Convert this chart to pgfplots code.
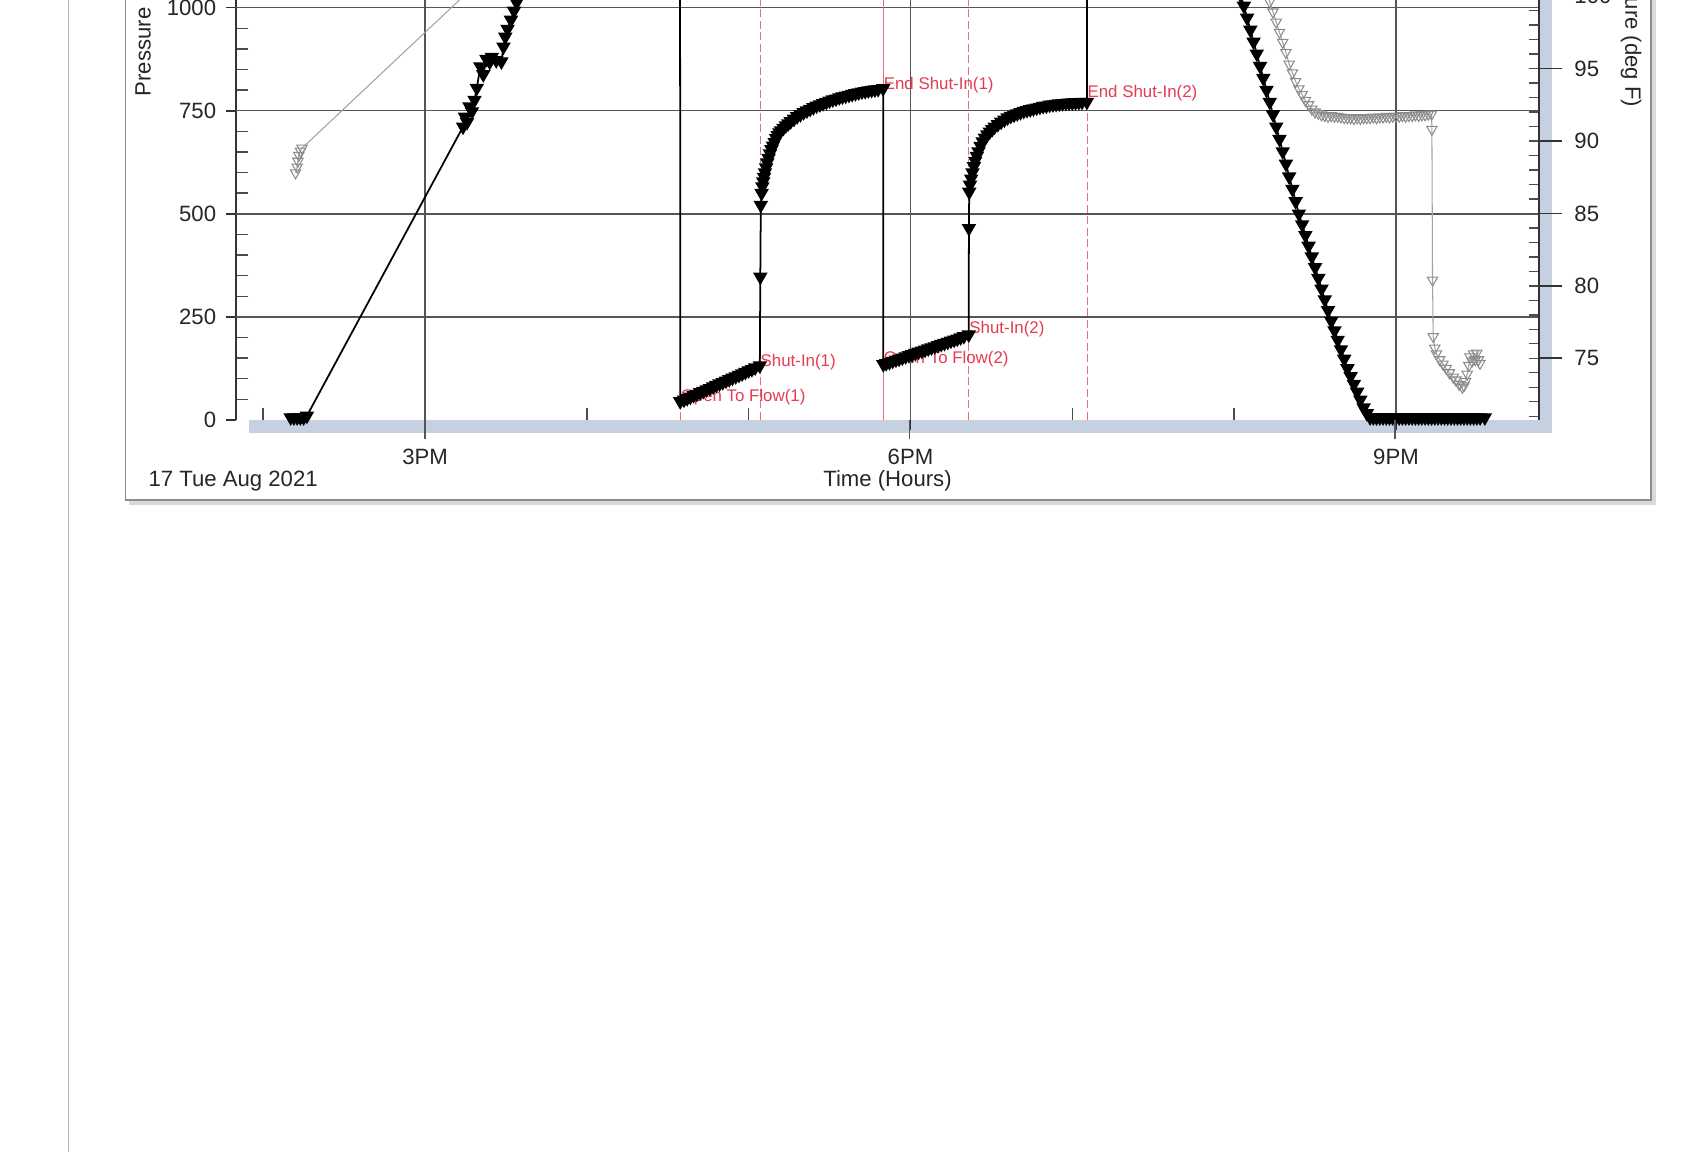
\documentclass[border=0pt]{standalone}
\usepackage{fontspec}
\setmainfont{Liberation Sans}
\usepackage{pgfplots}
\pgfplotsset{compat=1.18}
\definecolor{barcol}{RGB}{197,209,224}
\definecolor{gridcol}{RGB}{85,85,85}
\definecolor{annot}{RGB}{228,60,82}
\definecolor{framecol}{RGB}{140,140,140}
\definecolor{pagecol}{RGB}{180,180,205}
\definecolor{tempcol}{RGB}{140,140,140}
\newcommand\lab{\fontsize{6.3}{7.5}\selectfont}
\newcommand\ann{\fontsize{4.8}{5.5}\selectfont}

\pgfplotstableread{
t P
14.17 6
14.19 6
14.21 6
14.23 6
14.25 6
14.27 10
15.235 711
15.247 735
15.26 722
15.275 760
15.29 748
15.306 776
15.32 805
15.342 857
15.36 838
15.38 875
15.40 868
15.413 880
15.44 872
15.472 869
15.485 905
15.496 929
15.51 948
15.531 970
15.55 992
15.566 1012
15.60 1060
15.70 1170
15.85 1340
16.00 1480
16.10 1510
16.576 1512
16.577 45
16.60 49
16.62 52.5
16.64 56
16.66 60
16.68 63
16.70 67
16.72 70
16.74 74
16.76 77
16.78 81
16.80 84.5
16.82 88
16.84 91.5
16.86 95
16.88 98.5
16.90 102
16.92 105.5
16.94 109
16.96 112.5
16.98 116
17.00 120
17.02 123
17.04 127
17.069 132
17.072 347
17.075 521
17.080 550
17.085 566
17.090 578
17.095 589
17.101 600
17.108 612
17.115 624
17.123 635
17.132 646
17.141 656
17.150 665
17.160 674
17.170 683
17.180 690
17.190 697
17.200 702
17.215 708
17.230 714
17.245 719
17.260 724
17.280 730
17.300 736
17.320 741
17.340 746
17.360 750
17.380 754
17.400 758
17.420 762
17.440 765
17.460 768
17.480 771
17.500 774
17.520 777
17.540 779
17.560 782
17.580 784
17.600 786
17.620 788
17.640 790
17.660 792
17.680 794
17.700 796
17.720 797
17.740 799
17.760 800
17.780 801
17.800 802
17.831 804
17.832 135
17.85 137.5
17.87 140
17.89 143
17.91 146
17.93 148.5
17.95 151
17.97 154
17.99 157
18.01 159
18.03 162
18.05 165
18.07 167.5
18.09 170
18.11 173
18.13 175.5
18.15 178
18.17 181
18.19 184
18.21 186.5
18.23 189
18.25 192
18.27 194.5
18.29 197
18.31 200
18.33 203
18.360 207
18.361 465
18.363 553
18.368 570
18.375 585
18.383 600
18.392 615
18.400 628
18.410 640
18.420 651
18.433 664
18.446 675
18.460 684
18.475 692
18.490 699
18.505 705
18.520 711
18.540 717
18.560 723
18.580 728
18.600 733
18.620 737
18.640 740
18.660 743
18.680 746
18.700 749
18.720 751
18.740 753
18.760 755
18.780 757
18.800 759
18.820 761
18.840 762
18.860 764
18.880 765
18.900 766
18.920 767
18.940 768
18.960 768.5
18.980 769
19.000 769.5
19.020 770
19.040 770.5
19.060 771
19.090 771
19.092 1500
19.700 1500
20.04 1030
20.06 1004
20.08 975
20.10 946
20.12 917
20.14 888
20.16 858
20.18 829
20.20 800
20.22 771
20.24 741
20.26 711
20.28 681
20.30 651
20.32 621
20.34 590
20.36 560
20.38 530
20.40 500
20.42 474
20.44 448
20.46 422
20.48 396
20.50 370
20.52 344
20.54 318
20.56 292
20.58 266
20.60 240
20.62 217
20.64 194
20.66 171
20.68 148
20.70 125
20.72 106
20.74 87
20.76 68
20.78 49
20.80 30
20.82 16
20.84 6
20.86 6
20.88 6
20.90 6
20.92 6
20.94 6
20.96 6
20.98 6
21.00 6
21.02 6
21.04 6
21.06 6
21.08 6
21.10 6
21.12 6
21.14 6
21.16 6
21.18 6
21.20 6
21.22 6
21.24 6
21.26 6
21.28 6
21.30 6
21.32 6
21.34 6
21.36 6
21.38 6
21.40 6
21.42 6
21.44 6
21.46 6
21.48 6
21.50 6
21.52 6
21.549 6
}\pressure

\pgfplotstableread{
t T
14.20 87.8
14.21 88.2
14.215 88.6
14.22 89.0
14.23 89.3
14.24 89.5
15.60 103.8
16.00 107.5
16.50 109.0
19.90 109.0
20.10 104.0
20.16 101.6
20.20 100.3
20.22 99.6
20.24 98.9
20.26 98.2
20.28 97.5
20.30 96.8
20.32 96.1
20.34 95.3
20.36 94.7
20.38 94.1
20.40 93.6
20.42 93.2
20.44 92.8
20.46 92.5
20.48 92.2
20.50 92.0
20.52 91.9
20.54 91.8
20.56 91.75
20.58 91.7
20.60 91.75
20.62 91.7
20.64 91.7
20.66 91.65
20.68 91.6
20.70 91.6
20.72 91.6
20.74 91.55
20.76 91.6
20.78 91.55
20.80 91.6
20.82 91.6
20.84 91.6
20.86 91.65
20.88 91.6
20.90 91.65
20.92 91.65
20.94 91.7
20.96 91.65
20.98 91.7
21.00 91.7
21.02 91.7
21.04 91.75
21.06 91.7
21.08 91.75
21.10 91.75
21.12 91.8
21.14 91.75
21.16 91.8
21.18 91.8
21.20 91.85
21.22 91.85
21.222 90.8
21.226 80.4
21.23 76.5
21.24 75.7
21.25 75.3
21.27 74.9
21.29 74.6
21.31 74.3
21.33 74.0
21.354 73.7
21.37 73.5
21.39 73.2
21.41 73.0
21.42 73.1
21.43 73.4
21.44 73.9
21.45 74.5
21.457 75.1
21.47 74.8
21.48 75.3
21.49 74.9
21.499 75.35
21.51 74.9
21.519 74.65
}\temperature

\begin{document}
\begin{tikzpicture}
% ---------- decoration (1 unit = 1 reference pixel, y downwards) ----------
\begin{scope}[x=0.01cm,y=-0.01cm]
  \fill[white] (0,-150) rectangle (1697,1153);
  \draw[pagecol, line width=0.1mm] (69,-150) -- (69,1153);
  \draw[gray!30, line width=0.35mm] (129,503.5) -- (1655,503.5) -- (1655,-150);
  \draw[framecol, line width=0.16mm] (125.5,-150) -- (125.5,500) -- (1652,500) -- (1652,-150);
  \fill[barcol] (249,420) rectangle (1553,433);
  \fill[barcol] (1540,-150) rectangle (1553,433);
  \node[rotate=90, anchor=west, inner sep=0pt, font=\lab, text=black!85] at (145,97) {Pressure (psia)};
  \node[rotate=-90, anchor=east, inner sep=0pt, font=\lab, text=black!85] at (1632,108) {Temperature (deg F)};
  \node[anchor=west, inner sep=0pt, font=\lab, text=black!85] at (148,481) {17 Tue Aug 2021};
  \node[anchor=center, inner sep=0pt, font=\lab, text=black!85] at (888,481) {Time (Hours)};
\end{scope}

% ---------- pressure axis ----------
\begin{axis}[
  at={(2.36cm,-4.20cm)}, anchor=south west,
  scale only axis, width=13.03cm, height=5.155cm,
  xmin=13.832, xmax=21.884, ymin=0, ymax=1250,
  axis x line*=bottom, axis y line*=left,
  x axis line style={draw=none},
  y axis line style={draw=black!80, line width=0.6pt},
  xtick={15,18,21}, xticklabels={3PM,6PM,9PM},
  minor xtick={14,16,17,19,20},
  ytick={0,250,500,750,1000,1250},
  minor ytick={50,100,150,200,300,350,400,450,550,600,650,700,800,850,900,950,1050,1100,1150,1200},
  xmajorgrids=true, ymajorgrids=false,
  extra y ticks={250,500,750,1000,1250}, extra y tick labels={},
  extra y tick style={grid=major},
  grid style={gridcol, line width=0.45pt},
  tick align=outside, major tick length=0.1cm, minor tick length=-0.12cm,
  tick style={black!80, line width=0.5pt},
  minor tick style={black!70, line width=0.4pt},
  tick label style={font=\lab, text=black!85},
  yticklabel style={xshift=0.025cm},
  xticklabel style={yshift=-0.07cm},
  /pgf/number format/1000 sep={},
  /pgf/number format/assume math mode=true,
]
  \addplot[annot!75, line width=0.28pt, dash pattern=on 0.8mm off 0.35mm] coordinates {(16.576,0) (16.576,1250)};
  \addplot[annot!75, line width=0.28pt, dash pattern=on 0.8mm off 0.35mm] coordinates {(17.070,0) (17.070,1250)};
  \addplot[annot!75, line width=0.28pt, dash pattern=on 0.8mm off 0.35mm] coordinates {(17.831,0) (17.831,1250)};
  \addplot[annot!75, line width=0.28pt, dash pattern=on 0.8mm off 0.35mm, dash phase=0.5mm] coordinates {(17.834,0) (17.834,1250)};
  \addplot[annot!75, line width=0.28pt, dash pattern=on 0.8mm off 0.35mm] coordinates {(18.360,0) (18.360,1250)};
  \addplot[annot!75, line width=0.28pt, dash pattern=on 0.8mm off 0.35mm] coordinates {(19.091,0) (19.091,1250)};

  \node[anchor=west, inner sep=0pt, font=\ann, text=annot] at (axis cs:16.576,56) {Open To Flow(1)};
  \node[anchor=west, inner sep=0pt, font=\ann, text=annot] at (axis cs:17.070,141) {Shut-In(1)};
  \node[anchor=west, inner sep=0pt, font=\ann, text=annot] at (axis cs:17.831,812) {End Shut-In(1)};
  \node[anchor=west, inner sep=0pt, font=\ann, text=annot] at (axis cs:17.831,148) {Open To Flow(2)};
  \node[anchor=west, inner sep=0pt, font=\ann, text=annot] at (axis cs:18.360,221) {Shut-In(2)};
  \node[anchor=west, inner sep=0pt, font=\ann, text=annot] at (axis cs:19.090,793) {End Shut-In(2)};

  \addplot[black, line width=0.5pt, mark=triangle*, mark size=1.9pt,
           mark options={rotate=180, solid, fill=black}] table[x=t, y=P] {\pressure};
\end{axis}

% ---------- temperature axis ----------
\begin{axis}[
  at={(2.36cm,-4.20cm)}, anchor=south west,
  scale only axis, width=13.03cm, height=5.155cm,
  xmin=13.832, xmax=21.884, ymin=70.74, ymax=106.32,
  axis x line=none, axis y line*=right,
  y axis line style={draw=black!80, line width=0.6pt},
  ytick={75,80,85,90,95,100,105},
  minor ytick={71,72,...,106},
  tick align=outside, major tick length=0.23cm, minor tick length=-0.10cm,
  tick style={black!80, line width=0.5pt},
  minor tick style={black!70, line width=0.4pt},
  tick label style={font=\lab, text=black!85},
  yticklabel style={xshift=0cm},
  /pgf/number format/assume math mode=true,
]
  \addplot[tempcol!80, line width=0.3pt, mark=triangle, mark size=1.7pt,
           mark options={rotate=180, solid, draw=tempcol, fill=none}] table[x=t, y=T] {\temperature};
\end{axis}

\begin{scope}[x=0.01cm,y=-0.01cm]
  \foreach \xx in {425,910,1396} \draw[gridcol, line width=0.45pt] (\xx,420) -- (\xx,439);
\end{scope}

\pgfresetboundingbox
\path (0,0) rectangle (16.97,-11.53);
\end{tikzpicture}
\end{document}
